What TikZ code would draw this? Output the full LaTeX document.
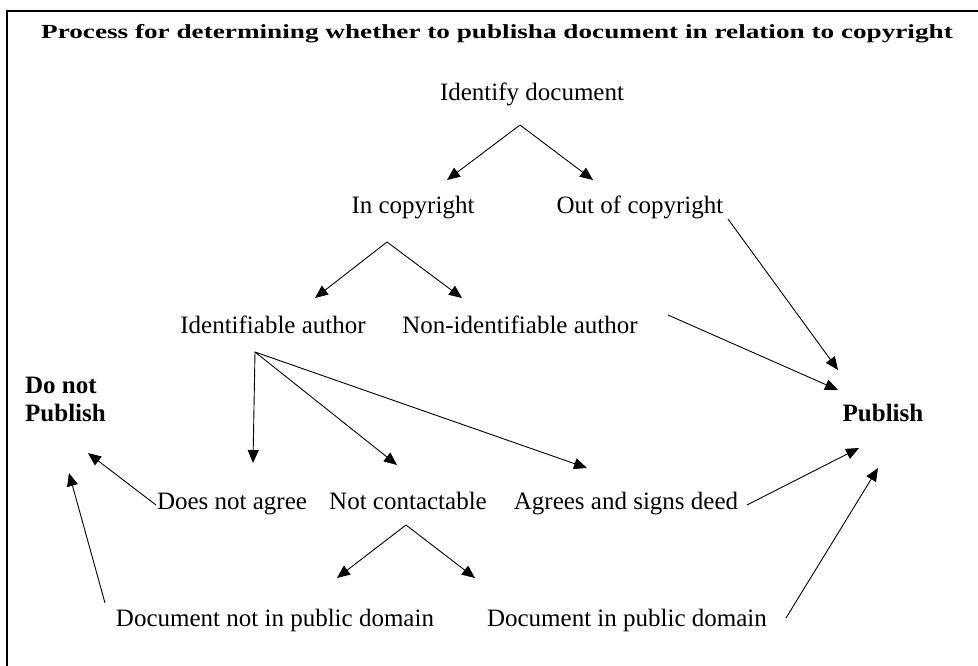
\documentclass[tikz,border=0pt]{standalone}
\usepackage{fontspec}
\setmainfont{Liberation Serif}
\usepackage{graphicx}
\usetikzlibrary{arrows.meta}

\tikzset{
  lbl/.style={inner sep=0pt, anchor=base, font=\fontsize{25}{28}\selectfont},
  boldlbl/.style={lbl, font=\fontsize{25}{28}\selectfont\bfseries},
  flow/.style={-{Triangle[length=13pt,width=11pt]}, line width=0.9pt}
}

\begin{document}
\begin{tikzpicture}[x=1pt,y=-1pt]
    \useasboundingbox (0,0) rectangle (978,666);

    % frame
    \draw[line width=2pt] (7,666) -- (7,11) -- (978,11);

    % title
    \node[lbl, font=\fontsize{20}{24}\selectfont\bfseries] (title) at (497,39)
        {\scalebox{1.36}[1]{Process for determining whether to publisha document in relation to copyright}};

    % steps
    \node[lbl] (identify) at (532,101) {Identify document};
    \node[lbl] (incopy) at (413,214) {In copyright};
    \node[lbl] (outcopy) at (640,214) {Out of copyright};
    \node[lbl] (identauth) at (273,333) {Identifiable author};
    \node[lbl] (nonident) at (520,333) {Non-identifiable author};
    \node[lbl] (doesnot) at (232,509) {Does not agree};
    \node[lbl] (notcont) at (408,509) {Not contactable};
    \node[lbl] (agrees) at (626,509) {Agrees and signs deed};
    \node[lbl] (docnot) at (275,626) {Document not in public domain};
    \node[lbl] (docin) at (627,626) {Document in public domain};

    % outcomes
    \node[boldlbl, anchor=north west, align=left] (donot) at (25,377) {Do not\\Publish};
    \node[boldlbl] (publish) at (883,421) {Publish};

    % fan points
    \coordinate (idfan) at ([shift={(-12,24)}]identify.base);
    \coordinate (cpfan) at ([shift={(-26,28)}]incopy.base);
    \coordinate (aufan) at ([shift={(-18,19)}]identauth.base);
    \coordinate (ncfan) at ([shift={(-2,16)}]notcont.base);

    % arrows
    \draw[flow] (idfan) -- ([shift={(34,-34)}]incopy.base);
    \draw[flow] (idfan) -- ([shift={(-47,-34)}]outcopy.base);
    \draw[flow] (cpfan) -- ([shift={(42,-35)}]identauth.base);
    \draw[flow] (cpfan) -- ([shift={(-58,-35)}]nonident.base);
    \draw[flow] (aufan) -- ([shift={(21,-46)}]doesnot.base);
    \draw[flow] (aufan) -- ([shift={(-11,-44)}]notcont.base);
    \draw[flow] (aufan) -- ([shift={(-39,-41)}]agrees.base);
    \draw[flow] (ncfan) -- ([shift={(62,-48)}]docnot.base);
    \draw[flow] (ncfan) -- ([shift={(-152,-48)}]docin.base);

    \draw[flow] ([shift={(88,5)}]outcopy.base) -- ([shift={(-45,-51)}]publish.base);
    \draw[flow] ([shift={(148,-18)}]nonident.base) -- ([shift={(-45,-31)}]publish.base);
    \draw[flow] ([shift={(121,-4)}]agrees.base) -- ([shift={(-24,27)}]publish.base);
    \draw[flow] ([shift={(159,-8)}]docin.base) -- ([shift={(-5,47)}]publish.base);
    \draw[flow] ([shift={(-76,-4)}]doesnot.base) -- ([shift={(63,31)}]donot.south west);
    \draw[flow] ([shift={(-170,-23)}]docnot.base) -- ([shift={(44,51)}]donot.south west);

\end{tikzpicture}
\end{document}
